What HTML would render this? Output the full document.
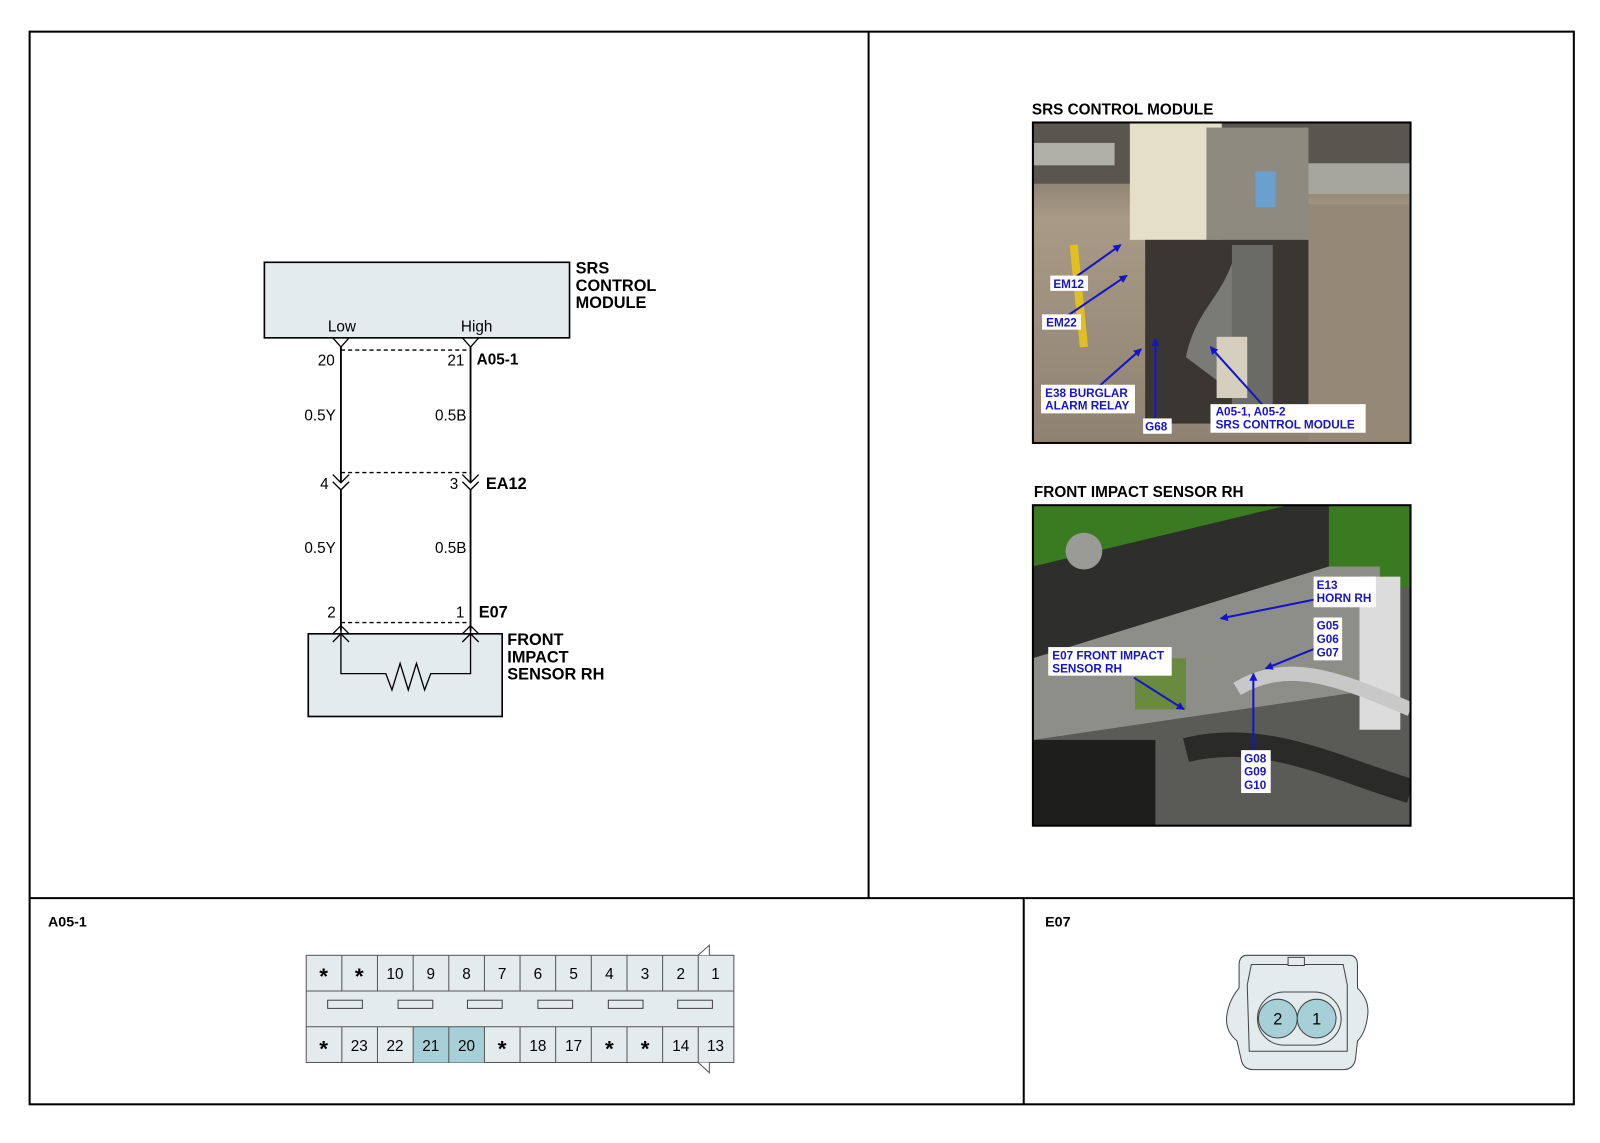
<!DOCTYPE html>
<html><head><meta charset="utf-8"><style>
html,body{margin:0;padding:0;background:#fff;}
svg{display:block;}
text{font-family:"Liberation Sans",Arial,sans-serif;}
.b{font-weight:bold;}
</style></head><body>
<svg width="1600" height="1143" viewBox="0 0 1567.6 1119.9" xmlns="http://www.w3.org/2000/svg">
<defs>
<marker id="ah" markerWidth="8" markerHeight="8" refX="7" refY="4" orient="auto" markerUnits="userSpaceOnUse"><path d="M0,0 L8,4 L0,8 Z" fill="#1515c8"/></marker>
<linearGradient id="g1" x1="0" y1="0" x2="0" y2="1"><stop offset="0" stop-color="#6a6258"/><stop offset="0.3" stop-color="#a89a86"/><stop offset="1" stop-color="#8f8272"/></linearGradient>
</defs>
<rect x="29" y="31" width="1513" height="1051" fill="none" stroke="#000" stroke-width="2"/>
<line x1="851" y1="31" x2="851" y2="880" stroke="#000" stroke-width="2"/>
<line x1="29" y1="880" x2="1542" y2="880" stroke="#000" stroke-width="2"/>
<line x1="1003" y1="880" x2="1003" y2="1082" stroke="#000" stroke-width="2"/>

<rect x="259" y="257" width="299" height="74" fill="#e3ebed" stroke="#000" stroke-width="1.6"/>
<text class="b" x="564" y="268" font-size="16">SRS</text>
<text class="b" x="564" y="285" font-size="16">CONTROL</text>
<text class="b" x="564" y="302" font-size="16">MODULE</text>
<text x="335" y="325" font-size="15" text-anchor="middle">Low</text>
<text x="467" y="325" font-size="15" text-anchor="middle">High</text>
<g stroke="#000" stroke-width="1.3" fill="none">
<path d="M326,331 L334,340 L342,331 M453,331 L461,340 L469,331"/>
<line x1="334" y1="340" x2="334" y2="473" stroke-width="1.8"/>
<line x1="461" y1="340" x2="461" y2="473" stroke-width="1.8"/>
<line x1="334" y1="343" x2="461" y2="343" stroke-dasharray="4,3"/>
<line x1="334" y1="463" x2="461" y2="463" stroke-dasharray="4,3"/>
<path d="M326,465 L334,473 L342,465 M326,472 L334,480 L342,472 M453,465 L461,473 L469,465 M453,472 L461,480 L469,472"/>
<line x1="334" y1="480" x2="334" y2="618" stroke-width="1.8"/>
<line x1="461" y1="480" x2="461" y2="618" stroke-width="1.8"/>
<line x1="334" y1="610" x2="461" y2="610" stroke-dasharray="4,3"/>
</g>
<text x="328" y="358" font-size="15" text-anchor="end">20</text>
<text x="455" y="358" font-size="15" text-anchor="end">21</text>
<text class="b" x="467" y="357" font-size="15">A05-1</text>
<text x="329" y="412" font-size="15" text-anchor="end">0.5Y</text>
<text x="457" y="412" font-size="15" text-anchor="end">0.5B</text>
<text x="322" y="479" font-size="15" text-anchor="end">4</text>
<text x="449" y="479" font-size="15" text-anchor="end">3</text>
<text class="b" x="476" y="479" font-size="16">EA12</text>
<text x="329" y="542" font-size="15" text-anchor="end">0.5Y</text>
<text x="457" y="542" font-size="15" text-anchor="end">0.5B</text>
<text x="329" y="605" font-size="15" text-anchor="end">2</text>
<text x="455" y="605" font-size="15" text-anchor="end">1</text>
<text class="b" x="469" y="605" font-size="16">E07</text>
<rect x="302" y="621" width="190" height="81" fill="#e3ebed" stroke="#000" stroke-width="1.6"/>
<g stroke="#000" stroke-width="1.3" fill="none">
<path d="M326,621 L334,613 L342,621 M326,629 L334,621 L342,629 M453,621 L461,613 L469,621 M453,629 L461,621 L469,629"/>
<path d="M334,614 L334,660 L378,660 L384,676 L392,650 L400,676 L408,650 L416,676 L422,660 L461,660 L461,614"/>
</g>
<text class="b" x="497" y="632" font-size="16">FRONT</text>
<text class="b" x="497" y="649" font-size="16">IMPACT</text>
<text class="b" x="497" y="666" font-size="16">SENSOR RH</text>

<text class="b" x="1011" y="112" font-size="15">SRS CONTROL MODULE</text>
<svg x="1012" y="120" width="370" height="314" viewBox="0 0 370 314">
<rect width="370" height="314" fill="url(#g1)"/>
<rect x="0" y="0" width="370" height="60" fill="#5a554e"/>
<rect x="0" y="20" width="80" height="22" fill="#b0b0a8"/>
<rect x="270" y="40" width="100" height="30" fill="#a6a69e"/>
<rect x="95" y="0" width="90" height="115" fill="#e6dfc8"/>
<rect x="170" y="5" width="100" height="110" fill="#8e8a80"/>
<rect x="218" y="48" width="20" height="35" fill="#6aa0d0"/>
<rect x="110" y="115" width="160" height="180" fill="#3a3732"/>
<path d="M150,230 C160,180 190,170 200,120 L230,120 C225,180 200,200 190,260 Z" fill="#7a7a76"/>
<rect x="195" y="120" width="40" height="180" fill="#6a6a66"/>
<path d="M40,120 L50,220" stroke="#e0c020" stroke-width="8"/>
<rect x="180" y="210" width="30" height="60" fill="#d6cfbf"/>
<rect x="270" y="80" width="100" height="234" fill="#968876"/>
</svg>
<rect x="1012" y="120" width="370" height="314" fill="none" stroke="#000" stroke-width="2"/>
<g stroke="#1515c8" stroke-width="2" marker-end="url(#ah)" fill="none">
<line x1="1053" y1="272" x2="1098" y2="240"/>
<line x1="1045" y1="310" x2="1104" y2="270"/>
<line x1="1075" y1="380" x2="1118" y2="342"/>
<line x1="1132" y1="413" x2="1132" y2="332"/>
<line x1="1240" y1="400" x2="1186" y2="340"/>
</g>
<g font-size="11.5" fill="#1515c8">
<rect x="1029" y="270" width="37" height="15" fill="#fff"/><text class="b" x="1032" y="282">EM12</text>
<rect x="1021" y="308" width="38" height="15" fill="#fff"/><text class="b" x="1025" y="320">EM22</text>
<rect x="1020" y="377" width="92" height="28" fill="#fff"/><text class="b" x="1024" y="389">E38 BURGLAR</text><text class="b" x="1024" y="401">ALARM RELAY</text>
<rect x="1120" y="410" width="28" height="15" fill="#fff"/><text class="b" x="1122" y="422">G68</text>
<rect x="1186" y="396" width="152" height="28" fill="#fff"/><text class="b" x="1191" y="407">A05-1, A05-2</text><text class="b" x="1191" y="420">SRS CONTROL MODULE</text>
</g>

<text class="b" x="1013" y="487" font-size="15">FRONT IMPACT SENSOR RH</text>
<svg x="1012" y="495" width="370" height="314" viewBox="0 0 370 314">
<rect width="370" height="314" fill="#5a5a56"/>
<rect x="0" y="0" width="370" height="80" fill="#3a7a20"/>
<path d="M0,60 L250,0 L290,0 L290,60 L0,150 Z" fill="#2e2e2c"/>
<path d="M0,150 L290,60 L340,60 L340,180 L0,230 Z" fill="#8e8e88"/>
<circle cx="50" cy="45" r="18" fill="#9a9a96"/>
<rect x="320" y="70" width="40" height="150" fill="#dcdcdc"/>
<path d="M200,180 C250,150 300,170 370,200" stroke="#c8c8c8" stroke-width="14" fill="none"/>
<path d="M150,240 C230,220 300,260 370,280" stroke="#2a2a28" stroke-width="24" fill="none"/>
<rect x="0" y="230" width="120" height="84" fill="#1e1e1c"/>
<rect x="100" y="150" width="50" height="50" fill="#6a8a40"/>
</svg>
<rect x="1012" y="495" width="370" height="314" fill="none" stroke="#000" stroke-width="2"/>
<g stroke="#1515c8" stroke-width="2" marker-end="url(#ah)" fill="none">
<line x1="1290" y1="587" x2="1196" y2="606"/>
<line x1="1292" y1="634" x2="1240" y2="655"/>
<line x1="1228" y1="740" x2="1228" y2="660"/>
<line x1="1111" y1="664" x2="1160" y2="695"/>
</g>
<g font-size="11.5" fill="#1515c8">
<rect x="1287" y="565" width="61" height="30" fill="#fff"/><text class="b" x="1290" y="577">E13</text><text class="b" x="1290" y="590">HORN RH</text>
<rect x="1287" y="605" width="28" height="42" fill="#fff"/><text class="b" x="1290" y="617">G05</text><text class="b" x="1290" y="630">G06</text><text class="b" x="1290" y="643">G07</text>
<rect x="1027" y="634" width="121" height="28" fill="#fff"/><text class="b" x="1031" y="646">E07 FRONT IMPACT</text><text class="b" x="1031" y="659">SENSOR RH</text>
<rect x="1216" y="735" width="29" height="42" fill="#fff"/><text class="b" x="1219" y="747">G08</text><text class="b" x="1219" y="760">G09</text><text class="b" x="1219" y="773">G10</text>
</g>

<text class="b" x="47" y="908" font-size="14">A05-1</text>
<text class="b" x="1024" y="908" font-size="14">E07</text>
<g font-size="15" text-anchor="middle">
<rect x="300" y="936" width="419" height="105" fill="#e3ebed" stroke="#555" stroke-width="1"/>
<rect x="404.8" y="1006" width="34.9" height="35" fill="#a7cfd7"/>
<rect x="439.7" y="1006" width="34.9" height="35" fill="#a7cfd7"/>
<line x1="300" y1="971" x2="719" y2="971" stroke="#555"/>
<line x1="300" y1="1006" x2="719" y2="1006" stroke="#555"/>
<g stroke="#555">
<line x1="334.9" y1="936" x2="334.9" y2="971"/><line x1="369.8" y1="936" x2="369.8" y2="971"/><line x1="404.8" y1="936" x2="404.8" y2="971"/><line x1="439.7" y1="936" x2="439.7" y2="971"/><line x1="474.6" y1="936" x2="474.6" y2="971"/><line x1="509.5" y1="936" x2="509.5" y2="971"/><line x1="544.4" y1="936" x2="544.4" y2="971"/><line x1="579.3" y1="936" x2="579.3" y2="971"/><line x1="614.3" y1="936" x2="614.3" y2="971"/><line x1="649.2" y1="936" x2="649.2" y2="971"/><line x1="684.1" y1="936" x2="684.1" y2="971"/>
<line x1="334.9" y1="1006" x2="334.9" y2="1041"/><line x1="369.8" y1="1006" x2="369.8" y2="1041"/><line x1="404.8" y1="1006" x2="404.8" y2="1041"/><line x1="439.7" y1="1006" x2="439.7" y2="1041"/><line x1="474.6" y1="1006" x2="474.6" y2="1041"/><line x1="509.5" y1="1006" x2="509.5" y2="1041"/><line x1="544.4" y1="1006" x2="544.4" y2="1041"/><line x1="579.3" y1="1006" x2="579.3" y2="1041"/><line x1="614.3" y1="1006" x2="614.3" y2="1041"/><line x1="649.2" y1="1006" x2="649.2" y2="1041"/><line x1="684.1" y1="1006" x2="684.1" y2="1041"/>
<path d="M684,936 L695,926 L695,936 M684,1041 L695,1051 L695,1041" fill="#fff"/>
</g>
<g fill="none" stroke="#444"><rect x="321" y="980" width="34" height="8"/><rect x="390" y="980" width="34" height="8"/><rect x="458" y="980" width="34" height="8"/><rect x="527" y="980" width="34" height="8"/><rect x="596" y="980" width="34" height="8"/><rect x="664" y="980" width="34" height="8"/></g>
<g class="b" font-size="22">
<text x="317" y="964">*</text><text x="352" y="964">*</text>
<text x="317" y="1035">*</text><text x="492" y="1035">*</text><text x="597" y="1035">*</text><text x="632" y="1035">*</text>
</g>
<text x="387" y="959">10</text><text x="422" y="959">9</text><text x="457" y="959">8</text><text x="492" y="959">7</text><text x="527" y="959">6</text><text x="562" y="959">5</text><text x="597" y="959">4</text><text x="632" y="959">3</text><text x="667" y="959">2</text><text x="701" y="959">1</text>
<text x="352" y="1030">23</text><text x="387" y="1030">22</text><text x="422" y="1030">21</text><text x="457" y="1030">20</text><text x="527" y="1030">18</text><text x="562" y="1030">17</text><text x="667" y="1030">14</text><text x="701" y="1030">13</text>
</g>
<g stroke="#444" stroke-width="1" fill="#e3ebed">
<path d="M1222,936 L1322,936 Q1330,936 1330,946 L1330,968 Q1342,980 1340,995 Q1338,1012 1330,1020 L1328,1038 Q1326,1048 1316,1048 L1228,1048 Q1218,1048 1216,1038 L1212,1020 Q1200,1010 1202,995 Q1204,980 1214,968 L1214,946 Q1214,936 1222,936 Z"/>
<path d="M1226,945 L1316,945 L1320,965 L1320,1030 L1224,1030 L1222,965 Z"/>
<rect x="1262" y="938" width="16" height="8"/>
<rect x="1232" y="972" width="82" height="52" rx="26"/>
<circle cx="1252" cy="998" r="19" fill="#a7cfd7"/>
<circle cx="1290" cy="998" r="19" fill="#a7cfd7"/>
</g>
<text x="1252" y="1004" font-size="16" text-anchor="middle">2</text>
<text x="1290" y="1004" font-size="16" text-anchor="middle">1</text>
</svg>
</body></html>
